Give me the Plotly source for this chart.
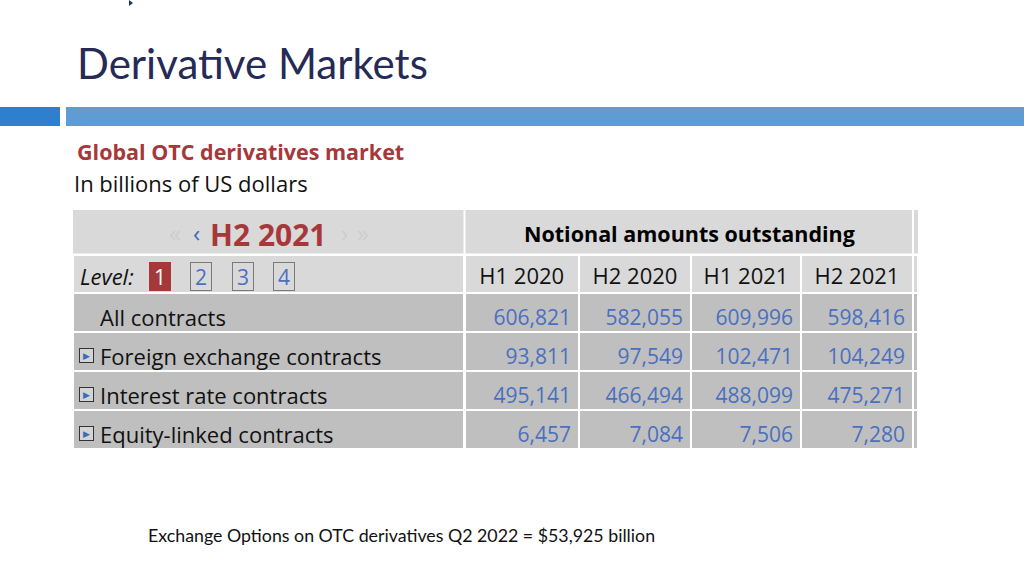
import plotly.graph_objects as go

# dados da tabela (bilhões de USD)
periods = ["H1 2020", "H2 2020", "H1 2021", "H2 2021"]
row_labels = ["All contracts", "Foreign exchange contracts",
              "Interest rate contracts", "Equity-linked contracts"]
expandable = [False, True, True, True]
all_contracts = [606821, 582055, 609996, 598416]
fx_contracts = [93811, 97549, 102471, 104249]
ir_contracts = [495141, 466494, 488099, 475271]
equity_contracts = [6457, 7084, 7506, 7280]
levels = ["1", "2", "3", "4"]
selected_period = "H2 2021"
column_title = "Notional amounts outstanding"

W, H = 1024, 576


def px(x):
    return x / W


def py(y):
    return 1 - y / H


FONT = "Open Sans"
BLUE_NUM = "#4a70c0"
RED = "#a6383a"
LIGHT = "#d9d9d9"
DARK = "#bfbfbf"
CLEAR = "rgba(0,0,0,0)"

series = [all_contracts, fx_contracts, ir_contracts, equity_contracts]
num_cols = [[s[k] for s in series] for k in range(len(periods))]
n_rows = len(row_labels)

fig = go.Figure()

# grade da tabela (fundos cinza e linhas brancas)
fig.add_trace(go.Table(
    domain=dict(x=[px(73), px(918)], y=[py(454), py(255)]),
    columnwidth=[391.5, 114.5, 112, 110, 112, 5],
    header=dict(values=[""] * 6, height=38, fill_color=LIGHT,
                line=dict(color="white", width=2.5)),
    cells=dict(values=[[""] * n_rows] * 6, height=39, fill_color=DARK,
               line=dict(color="white", width=2.5)),
))

# textos da tabela (camada transparente, um pouco mais abaixo)
fig.add_trace(go.Table(
    domain=dict(x=[px(73), px(918)], y=[py(462), py(259)]),
    columnwidth=[19, 372.5, 114.5, 112, 110, 112, 5],
    header=dict(values=["", ""] + periods + [""],
                height=42, align="center",
                fill_color=CLEAR, line=dict(color=CLEAR, width=0),
                font=dict(family=FONT, size=22, color="#111111")),
    cells=dict(values=[[""] * n_rows, row_labels] + num_cols + [[""] * n_rows],
               format=["", ""] + [","] * len(periods) + [""],
               height=39, align=["left", "left", "right", "right", "right", "right", "right"],
               fill_color=CLEAR, line=dict(color=CLEAR, width=0),
               font=dict(family=FONT, size=[22, 22, 21, 21, 21, 21, 21],
                         color=["#111111", "#111111"] + [BLUE_NUM] * len(periods) + ["#111111"])),
))

ann = []
# título do slide
ann.append(dict(x=px(75), y=py(63), xref="paper", yref="paper", xanchor="left", yanchor="middle",
                text="Derivative Markets", showarrow=False,
                font=dict(family="Lato", size=42, color="#262a56")))
ann.append(dict(x=px(75), y=py(152), xref="paper", yref="paper", xanchor="left", yanchor="middle",
                text="<b>Global OTC derivatives market</b>", showarrow=False,
                font=dict(family=FONT, size=21.5, color=RED)))
ann.append(dict(x=px(72), y=py(183), xref="paper", yref="paper", xanchor="left", yanchor="middle",
                text="In billions of US dollars", showarrow=False,
                font=dict(family=FONT, size=22, color="#111111")))
ann.append(dict(x=px(146), y=py(535), xref="paper", yref="paper", xanchor="left", yanchor="middle",
                text="Exchange Options on OTC derivatives Q2 2022 = $53,925 billion", showarrow=False,
                font=dict(family="Lato", size=17.8, color="#111111")))

# linha superior: período selecionado e título das colunas
ann.append(dict(x=px(268.5), y=py(234), xref="paper", yref="paper", xanchor="center", yanchor="middle",
                text="<b>" + selected_period + "</b>", showarrow=False,
                font=dict(family=FONT, size=30, color=RED)))
ann.append(dict(x=px(689), y=py(233.5), xref="paper", yref="paper", xanchor="center", yanchor="middle",
                text="<b>" + column_title + "</b>", showarrow=False,
                font=dict(family=FONT, size=21.5, color="black")))
for x, t, c in [(175, "«", "#cdcdcd"), (196, "‹", "#3d68b5"), (344, "›", "#cdcdcd"), (363, "»", "#cdcdcd")]:
    ann.append(dict(x=px(x), y=py(233), xref="paper", yref="paper", xanchor="center", yanchor="middle",
                    text=t, showarrow=False, font=dict(family=FONT, size=24, color=c)))

# rótulo e caixas de nível
ann.append(dict(x=px(78), y=py(276), xref="paper", yref="paper", xanchor="left", yanchor="middle",
                text="<i>Level:</i>", showarrow=False,
                font=dict(family=FONT, size=22, color="#111111")))
for i, lv in enumerate(levels):
    cx = 160 + i * 41.3
    sel = i == 0
    ann.append(dict(x=px(cx), y=py(276), xref="paper", yref="paper", xanchor="center", yanchor="middle",
                    text=lv, showarrow=False, width=20, height=27, borderpad=0,
                    bgcolor=RED if sel else CLEAR,
                    bordercolor=RED if sel else "#7a7a7a", borderwidth=1,
                    font=dict(family=FONT, size=21, color="white" if sel else BLUE_NUM)))

# ícones de expansão
for j, exp in enumerate(expandable):
    if exp:
        ann.append(dict(x=px(86.5), y=py(316 + j * 39), xref="paper", yref="paper",
                        xanchor="center", yanchor="middle",
                        text="▶", showarrow=False,
                        width=11, height=11, borderpad=1, bgcolor="#d4d4d4",
                        bordercolor="#333333", borderwidth=1,
                        font=dict(family="DejaVu Sans", size=9, color="#3a6fb7")))

shapes = [
    dict(type="rect", xref="paper", yref="paper", x0=px(0), x1=px(60), y0=py(126), y1=py(107),
         fillcolor="#2f7fcf", line=dict(width=0), layer="below"),
    dict(type="rect", xref="paper", yref="paper", x0=px(66), x1=px(1024), y0=py(126), y1=py(107),
         fillcolor="#609cd3", line=dict(width=0), layer="below"),
    dict(type="path", xref="paper", yref="paper",
         path=f"M {px(129)},{py(0)} L {px(133)},{py(3)} L {px(129)},{py(6)} Z",
         fillcolor="#1f3550", line=dict(width=0)),
]
# fundo da linha superior da tabela
for x0, x1 in [(73, 463.5), (465.5, 912), (914, 918)]:
    shapes.append(dict(type="rect", xref="paper", yref="paper", x0=px(x0), x1=px(x1),
                       y0=py(253.5), y1=py(210), fillcolor=LIGHT, line=dict(width=0), layer="below"))

fig.update_layout(
    width=W, height=H,
    margin=dict(l=0, r=0, t=0, b=0),
    paper_bgcolor="white", plot_bgcolor="white",
    showlegend=False,
    annotations=ann,
    shapes=shapes,
)

fig.write_html("out.html", config={"displayModeBar": False},
               post_script="document.body.style.margin='0';document.body.style.overflow='hidden';")
